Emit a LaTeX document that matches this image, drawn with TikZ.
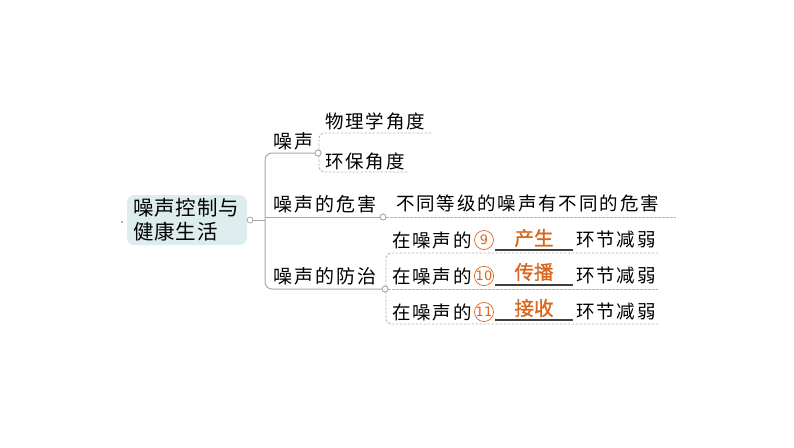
\documentclass[tikz,border=0pt]{standalone}
\usepackage{fontspec}
\setmainfont{Noto Sans CJK SC}
\newfontfamily\rootfont[LetterSpace=4]{Noto Sans CJK SC}
\newfontfamily\lvtwofont[LetterSpace=11]{Noto Sans CJK SC}
\newfontfamily\lvthreefont[LetterSpace=10]{Noto Sans CJK SC}
\newfontfamily\ansfont[FakeBold=1.2]{Noto Sans CJK SC}
\newfontfamily\numfont{DejaVu Sans}
\definecolor{solidline}{HTML}{A8A8A8}
\definecolor{dashline}{HTML}{B4B4B4}
\definecolor{rootfill}{HTML}{DDECEC}
\definecolor{anscol}{HTML}{D9661C}
\begin{document}
\begin{tikzpicture}[x=1pt,y=-1pt,
  rootbox/.style={fill=rootfill,rounded corners=7pt,inner sep=0pt,minimum width=120pt,minimum height=50pt},
  lvtwo/.style={anchor=west,inner sep=0pt,font=\lvtwofont\fontsize{19}{22}\selectfont},
  lvthree/.style={anchor=west,inner sep=0pt,font=\lvthreefont\fontsize{18.5}{22}\selectfont},
  ans/.style={inner sep=0pt,text=anscol,font=\ansfont\fontsize{19.5}{22}\selectfont},
  cnum/.style={circle,draw=anscol,line width=0.7pt,inner sep=0pt,minimum size=19pt,text=anscol,font=\numfont\fontsize{13}{14}\selectfont},
  solidc/.style={draw=solidline,line width=1pt},
  dashc/.style={draw=dashline,line width=0.9pt,dash pattern=on 2.5pt off 1.5pt},
  knob/.style={circle,draw=solidline,fill=white,line width=0.8pt,inner sep=0pt,minimum size=6pt},
  blank/.style={draw=black!75,line width=1.2pt}]
\useasboundingbox (0,0) rectangle (794,447);
% root
\node[rootbox] (root) at (187,220) {};
\node[anchor=west,inner sep=0pt,align=left,font=\rootfont\fontsize{20.5}{24}\selectfont] (roottxt) at (133,220) {噪声控制与\\健康生活};
\fill[anscol!80] (122,222) circle (1.2pt);
% level 2 geometry
\node[knob] (rk) at (250,220) {};
\node[knob] (k1) at (318,153) {};
\node[knob] (k2) at (383,217) {};
\node[knob] (k3) at (385,289) {};
\coordinate (vjoin) at (265,220);
\coordinate (c1) at (265,153);
\coordinate (c3) at (265,289);
\draw[solidc] (rk) -- (vjoin);
\draw[solidc,rounded corners=7pt] (k1.west) -- (c1) -- (c3) -- (k3.west);
\draw[solidc] (265,217) -- (k2.west);
\node[lvtwo] (n1) at (273,141) {噪声};
\node[lvtwo] (n2) at (273,204) {噪声的危害};
\node[lvtwo] (n3) at (273,276) {噪声的防治};
% children of 噪声
\node[lvthree] (a1) at (325,121) {物理学角度};
\node[lvthree] (a2) at (325,161) {环保角度};
\coordinate (a1e) at (431,133);
\coordinate (a2e) at (408,172);
\draw[dashc,rounded corners=5pt] (a1e) -- (319,133) -- (319,172) -- (a2e);
% child of 危害
\node[lvthree] (b1) at (396,203) {不同等级的噪声有不同的危害};
\coordinate (b1e) at (676,217);
\draw[dashc] (k2.east) -- (b1e);
% children of 防治
\node[lvthree] (p1a) at (392,240) {在噪声的};
\node[cnum] (p1n) at (484,240) {9};
\node[ans] (p1x) at (534,238) {产生};
\node[lvthree] (p1b) at (576,240) {环节减弱};
\node[lvthree] (p2a) at (392,276) {在噪声的};
\node[cnum] (p2n) at (484,276) {10};
\node[ans] (p2x) at (534,272) {传播};
\node[lvthree] (p2b) at (576,276) {环节减弱};
\node[lvthree] (p3a) at (392,312) {在噪声的};
\node[cnum] (p3n) at (484,312) {11};
\node[ans] (p3x) at (534,308) {接收};
\node[lvthree] (p3b) at (576,312) {环节减弱};
\coordinate (l1s) at (495,250); \coordinate (l1e) at (573,250);
\coordinate (l2s) at (495,285); \coordinate (l2e) at (573,285);
\coordinate (l3s) at (495,320); \coordinate (l3e) at (573,320);
\draw[blank] (l1s) -- (l1e);
\draw[blank] (l2s) -- (l2e);
\draw[blank] (l3s) -- (l3e);
\coordinate (d1e) at (658,253);
\coordinate (d2e) at (658,289);
\coordinate (d3e) at (658,324);
\draw[dashc,rounded corners=5pt] (d1e) -- (386,253) -- (386,324) -- (d3e);
\draw[dashc] (k3.east) -- (d2e);
\node[knob] at (318,153) {};
\node[knob] at (383,217) {};
\node[knob] at (385,289) {};
\end{tikzpicture}
\end{document}
